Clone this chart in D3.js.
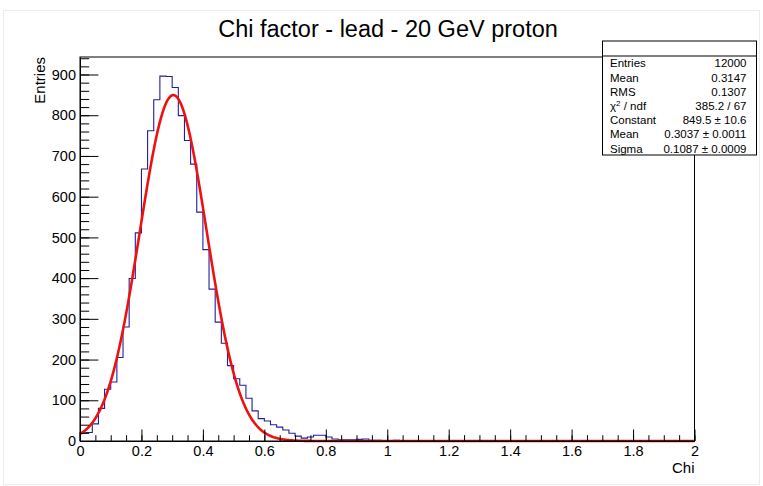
<!DOCTYPE html>
<html>
<head>
<meta charset="utf-8">
<script src="https://cdn.jsdelivr.net/npm/d3@7"></script>
<style>
  html, body { margin: 0; padding: 0; background: #fff; }
  svg { display: block; font-family: "Liberation Sans", Arial, Helvetica, sans-serif; }
</style>
</head>
<body>
<svg id="chart" width="763" height="486"></svg>
<script>
// Histogram of the chi factor: 100 bins of width 0.02 between 0 and 2
const binLow = 0;
const binWidth = 0.02;
const counts = [
  20, 21, 42, 80, 127, 145, 205, 280, 399, 511,
  668, 762, 838, 896, 895, 868, 799, 738, 680, 562,
  470, 373, 292, 240, 185, 153, 137, 105, 74, 55,
  49, 40, 34, 27, 19, 12, 7, 10, 14, 14,
  10, 5, 3, 3, 3, 4, 5, 2, 2, 1,
  1, 2, 1, 0, 1, 1, 0, 1, 0, 1,
  0, 1, 0, 0, 1, 0, 0, 1, 0, 0,
  1, 0, 0, 0, 1, 0, 0, 0, 0, 1,
  0, 0, 0, 0, 0, 1, 0, 0, 0, 0,
  0, 0, 0, 0, 0, 0, 0, 0, 0, 0
];

// Gaussian fit parameters
const fitConstant = 849.5;
const fitMean = 0.3037;
const fitSigma = 0.1087;

// Statistics box rows
const statLabels = ["Entries", "Mean", "RMS", "χ2 / ndf", "Constant", "Mean", "Sigma"];
const statValues = ["12000", "0.3147", "0.1307", "385.2 / 67", "849.5 ± 10.6", "0.3037 ± 0.0011", "0.1087 ± 0.0009"];

// Axis ticks
const xMajorTicks = [0, 0.2, 0.4, 0.6, 0.8, 1, 1.2, 1.4, 1.6, 1.8, 2];
const yMajorTicks = [0, 100, 200, 300, 400, 500, 600, 700, 800, 900];

const titleText = "Chi factor - lead - 20 GeV proton";
const xTitle = "Chi";
const yTitle = "Entries";

const xMin = 0, xMax = 2, yMaxAxis = 943;

const svg = d3.select("#chart");

// canvas outline
svg.append("rect")
  .attr("x", 3.5).attr("y", 10.5).attr("width", 756).attr("height", 474)
  .attr("fill", "#fff").attr("stroke", "#ececec").attr("stroke-width", 1);

const frame = { left: 80, right: 694.5, top: 57, bottom: 441 };

const x = d3.scaleLinear().domain([xMin, xMax]).range([frame.left, frame.right]);
const y = d3.scaleLinear().domain([0, yMaxAxis]).range([frame.bottom, frame.top]);

// histogram outline as a staircase
const stepPts = [[binLow, 0]];
counts.forEach((c, i) => {
  const lo = binLow + i * binWidth;
  stepPts.push([lo, c], [lo + binWidth, c]);
});
stepPts.push([binLow + counts.length * binWidth, 0]);

const lineGen = d3.line().x(d => x(d[0])).y(d => y(d[1]));

svg.append("path")
  .attr("d", lineGen(stepPts))
  .attr("fill", "none")
  .attr("stroke", "#20209a")
  .attr("stroke-width", 1.1);

// fitted gaussian over the full range
const gauss = v => fitConstant * Math.exp(-0.5 * Math.pow((v - fitMean) / fitSigma, 2));
const fitPts = d3.range(0, 1001).map(k => {
  const v = xMin + (xMax - xMin) * k / 1000;
  return [v, gauss(v)];
});
svg.append("path")
  .attr("d", lineGen(fitPts))
  .attr("fill", "none")
  .attr("stroke", "#ee1111")
  .attr("stroke-width", 2.6)
  .attr("stroke-linejoin", "round");

// frame
svg.append("rect")
  .attr("x", frame.left).attr("y", frame.top)
  .attr("width", frame.right - frame.left).attr("height", frame.bottom - frame.top)
  .attr("fill", "none").attr("stroke", "#000").attr("stroke-width", 1);

// x axis: major and minor ticks pointing into the frame
const xMinor = d3.range(0, 41).map(k => k * 0.05);
svg.append("g")
  .attr("transform", `translate(0,${frame.bottom})`)
  .call(d3.axisBottom(x).tickValues(xMinor).tickSizeInner(-5.8).tickSizeOuter(0).tickFormat(""))
  .call(g => g.select(".domain").remove());
svg.append("g")
  .attr("transform", `translate(0,${frame.bottom})`)
  .call(d3.axisBottom(x).tickValues(xMajorTicks).tickSizeInner(-11.5).tickSizeOuter(0).tickPadding(5)
    .tickFormat(d => d3.format("~g")(d)))
  .call(g => g.select(".domain").attr("stroke", "#000"))
  .call(g => g.selectAll("text").attr("font-size", 14.5).attr("fill", "#000")
    .attr("font-family", "Liberation Sans, Arial, sans-serif"));

// y axis
const yMinor = d3.range(0, 48).map(k => k * 20).filter(v => v <= yMaxAxis);
svg.append("g")
  .attr("transform", `translate(${frame.left},0)`)
  .call(d3.axisLeft(y).tickValues(yMinor).tickSizeInner(-9.2).tickSizeOuter(0).tickFormat(""))
  .call(g => g.select(".domain").remove());
svg.append("g")
  .attr("transform", `translate(${frame.left},0)`)
  .call(d3.axisLeft(y).tickValues(yMajorTicks).tickSizeInner(-18.4).tickSizeOuter(0).tickPadding(4))
  .call(g => g.select(".domain").attr("stroke", "#000"))
  .call(g => g.selectAll("text").attr("font-size", 14.5).attr("fill", "#000")
    .attr("font-family", "Liberation Sans, Arial, sans-serif"));

// titles
svg.append("text")
  .attr("x", 388).attr("y", 37)
  .attr("text-anchor", "middle")
  .attr("font-size", 23.5)
  .text(titleText);

svg.append("text")
  .attr("x", frame.right).attr("y", 473)
  .attr("text-anchor", "end")
  .attr("font-size", 15)
  .text(xTitle);

svg.append("text")
  .attr("transform", `translate(44.5,${frame.top}) rotate(-90)`)
  .attr("text-anchor", "end")
  .attr("font-size", 15)
  .text(yTitle);

// statistics box
const box = { x: 602.5, y: 41, w: 154, h: 114, header: 15 };
svg.append("rect")
  .attr("x", box.x).attr("y", box.y).attr("width", box.w).attr("height", box.h)
  .attr("fill", "#fff").attr("stroke", "#000").attr("stroke-width", 1);
svg.append("line")
  .attr("x1", box.x).attr("x2", box.x + box.w)
  .attr("y1", box.y + box.header).attr("y2", box.y + box.header)
  .attr("stroke", "#000");

const rowY = i => 67.3 + i * 14.2;
statLabels.forEach((lab, i) => {
  const t = svg.append("text")
    .attr("x", 610).attr("y", rowY(i))
    .attr("font-size", 11.5);
  if (lab.startsWith("χ2")) {
    t.append("tspan").text("χ");
    t.append("tspan").attr("font-size", 8).attr("dy", -4).text("2");
    t.append("tspan").attr("dy", 4).text(" / ndf");
  } else {
    t.text(lab);
  }
});
statValues.forEach((val, i) => {
  svg.append("text")
    .attr("x", 746.5).attr("y", rowY(i))
    .attr("text-anchor", "end")
    .attr("font-size", 11.5)
    .text(val);
});
</script>
</body>
</html>
